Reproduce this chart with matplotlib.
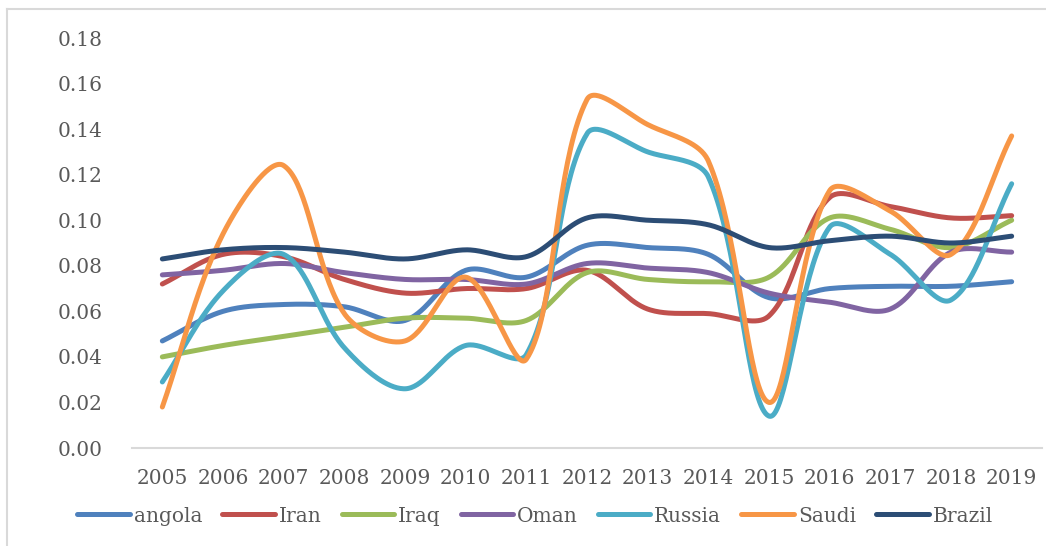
import numpy as np
import matplotlib as mpl
mpl.use('Agg')
import matplotlib.pyplot as plt
from matplotlib.lines import Line2D

years = ['2005', '2006', '2007', '2008', '2009', '2010', '2011', '2012',
         '2013', '2014', '2015', '2016', '2017', '2018', '2019']

angola = [0.047, 0.060, 0.063, 0.062, 0.056, 0.078, 0.075, 0.089,
          0.088, 0.085, 0.066, 0.070, 0.071, 0.071, 0.073]
iran = [0.072, 0.085, 0.084, 0.074, 0.068, 0.070, 0.070, 0.078,
        0.061, 0.059, 0.058, 0.110, 0.106, 0.101, 0.102]
iraq = [0.040, 0.045, 0.049, 0.053, 0.057, 0.057, 0.056, 0.077,
        0.074, 0.073, 0.075, 0.101, 0.096, 0.088, 0.100]
oman = [0.076, 0.078, 0.081, 0.077, 0.074, 0.074, 0.072, 0.081,
        0.079, 0.077, 0.068, 0.064, 0.061, 0.086, 0.086]
russia = [0.029, 0.069, 0.085, 0.044, 0.026, 0.045, 0.041, 0.138,
          0.130, 0.119, 0.014, 0.097, 0.085, 0.065, 0.116]
saudi = [0.018, 0.094, 0.124, 0.059, 0.047, 0.075, 0.039, 0.153,
         0.142, 0.126, 0.020, 0.113, 0.104, 0.085, 0.137]
brazil = [0.083, 0.087, 0.088, 0.086, 0.083, 0.087, 0.084, 0.101,
          0.100, 0.098, 0.088, 0.091, 0.093, 0.090, 0.093]

names = ['angola', 'Iran', 'Iraq', 'Oman', 'Russia', 'Saudi', 'Brazil']
series = [angola, iran, iraq, oman, russia, saudi, brazil]
colors = ['#4F81BD', '#C0504D', '#9BBB59', '#8064A2', '#4BACC6', '#F79646', '#2C4D75']

# pixel size of one category step / one unit of value, used for the smoothing
XPX, YPX = 60.4, 2278.0


def smooth(y, n=40):
    # excel-like smoothed line: bezier segments, handles scaled by chord lengths
    p = np.column_stack([np.arange(len(y)) * XPX, np.asarray(y, float) * YPX])
    m = len(p)
    d = np.hypot(*np.diff(p, axis=0).T)
    out_h, in_h = np.zeros_like(p), np.zeros_like(p)
    for i in range(m):
        a, b = p[max(i - 1, 0)], p[min(i + 1, m - 1)]
        dp = d[i - 1] if i > 0 else 0.0
        dn = d[i] if i < m - 1 else 0.0
        tot = dp + dn
        out_h[i] = p[i] + (b - a) * (dn / tot) / 3
        in_h[i] = p[i] - (b - a) * (dp / tot) / 3
    t = np.linspace(0, 1, n)[:, None]
    pts = []
    for i in range(m - 1):
        seg = ((1-t)**3*p[i] + 3*(1-t)**2*t*out_h[i]
               + 3*(1-t)*t**2*in_h[i+1] + t**3*p[i+1])
        pts.append(seg)
    pts = np.vstack(pts)
    return pts[:, 0] / XPX, pts[:, 1] / YPX


plt.rcParams['font.family'] = ['DejaVu Serif']
txt = '#595959'

fig = plt.figure(figsize=(10.46, 5.46), dpi=100)
ax = fig.add_axes([132/1046, 98/546, 910/1046, 410/546])

for name, vals, c in zip(names, series, colors):
    sx, sy = smooth(vals)
    ax.plot(sx, sy, color=c, lw=3.6, solid_capstyle='round', label=name)

ax.set_xlim(-0.5, 14.5)
ax.set_ylim(0, 0.18)
ax.set_yticks(np.arange(0, 0.181, 0.02))
ax.set_yticklabels(['%.2f' % v for v in np.arange(0, 0.181, 0.02)])
ax.set_xticks(range(len(years)))
ax.set_xticklabels(years)
ax.tick_params(length=0, labelsize=14.5, colors=txt)
ax.tick_params(axis='y', pad=21)
ax.tick_params(axis='x', pad=15)
for s in ['top', 'right', 'left']:
    ax.spines[s].set_visible(False)
ax.spines['bottom'].set_color('#D9D9D9')
ax.spines['bottom'].set_linewidth(1.5)

handles = [Line2D([], [], color=c, lw=3.6, solid_capstyle='round') for c in colors]
leg = fig.legend(handles, names, loc='center', bbox_to_anchor=(535/1046, 30/546),
                 ncol=7, frameon=False, fontsize=14.5, handlelength=2.6,
                 handletextpad=0.2, columnspacing=1.0)
for t in leg.get_texts():
    t.set_color(txt)

# chart area border (only top/left visible in the crop)
fig.add_artist(Line2D([7/1046, 1], [1 - 9/546, 1 - 9/546], color='#D9D9D9', lw=1.5))
fig.add_artist(Line2D([7/1046, 7/1046], [0, 1 - 9/546], color='#D9D9D9', lw=1.5))

fig.savefig('out.png', dpi=100)
